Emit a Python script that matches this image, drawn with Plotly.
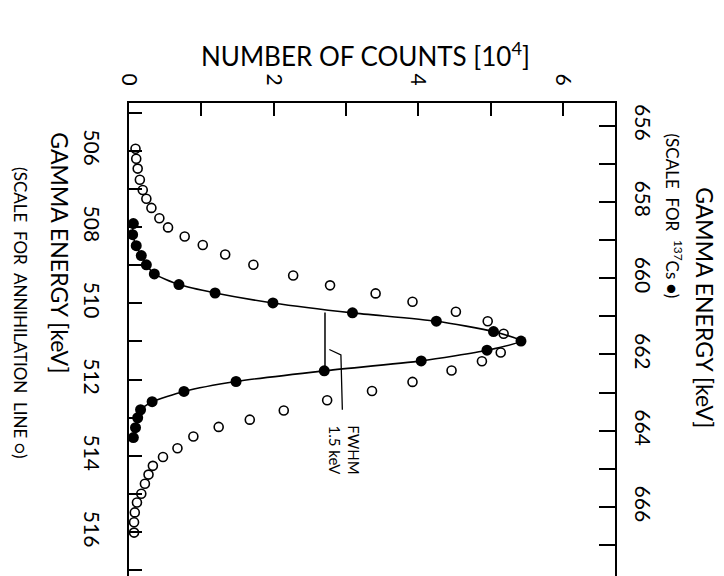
import plotly.graph_objects as go

# ---- data ----
# Cs-137 line (filled dots), energies on the Cs scale [keV], counts in 10^4
cs_energy = [658.57, 658.86, 659.15, 659.41, 659.65, 659.89, 660.17, 660.39, 660.65,
             660.91, 661.13, 661.40, 661.65, 661.89, 662.17, 662.43, 662.71, 662.97,
             663.24, 663.45, 663.66, 663.92, 664.18]
cs_counts = [0.06, 0.05, 0.10, 0.17, 0.24, 0.35, 0.69, 1.19, 1.99, 3.09, 4.25, 5.04,
             5.42, 4.95, 4.04, 2.70, 1.48, 0.76, 0.32, 0.16, 0.12, 0.09, 0.06]

# annihilation line (open circles), energies on the annihilation scale [keV]
ann_energy = [505.95, 506.21, 506.47, 506.76, 507.03, 507.26, 507.50, 507.77, 508.01,
              508.25, 508.47, 508.72, 508.99, 509.27, 509.53, 509.74, 509.96, 510.22,
              510.47, 510.80, 511.29, 511.52, 511.76, 512.06, 512.30, 512.54, 512.81,
              513.05, 513.24, 513.49, 513.80, 514.03, 514.26, 514.49, 514.73, 514.99,
              515.22, 515.48, 515.74, 516.01]
ann_counts = [0.09, 0.10, 0.12, 0.15, 0.19, 0.24, 0.31, 0.42, 0.54, 0.77, 1.02, 1.33,
              1.72, 2.27, 2.78, 3.41, 3.92, 4.52, 4.96, 5.18, 5.14, 4.88, 4.46, 3.92,
              3.36, 2.74, 2.14, 1.67, 1.24, 0.89, 0.67, 0.47, 0.33, 0.27, 0.22, 0.17,
              0.11, 0.08, 0.07, 0.07]

count_labels = [0, 2, 4, 6]
ann_labels = [506, 508, 510, 512, 514, 516]
cs_labels = [656, 658, 660, 662, 664, 666]

FWHM_KEV = 1.5
CS_OFFSET = 150.66           # Cs scale = annihilation scale + offset
ANN_RANGE = [517.2, 504.75]  # reversed (energy grows downward)
COUNT_RANGE = [0, 6.72]

# ---- layout geometry ----
W, H = 724, 576
L, R, T, B = 121, 117, 95, 4
FONT = "Lato"
NB = "\u00a0"


def px(xp):
    return (xp - L) / (W - L - R)


def py(yp):
    return (H - B - yp) / (H - T - B)


fig = go.Figure()

# fitted curve + Cs points
fig.add_trace(go.Scatter(
    x=cs_counts, y=cs_energy, yaxis="y2", mode="lines+markers",
    line=dict(color="black", width=1.6, shape="spline", smoothing=0.6),
    marker=dict(symbol="circle", size=11, color="black"),
    showlegend=False, hoverinfo="skip"))

# annihilation points
fig.add_trace(go.Scatter(
    x=ann_counts, y=ann_energy, mode="markers",
    marker=dict(symbol="circle-open", size=9, color="black", line=dict(width=1.6)),
    showlegend=False, hoverinfo="skip"))

# FWHM bar
peak_i = cs_counts.index(max(cs_counts))
peak_e = cs_energy[peak_i]
half = max(cs_counts) / 2
fig.add_trace(go.Scatter(
    x=[half, half], y=[peak_e - FWHM_KEV / 2, peak_e + FWHM_KEV / 2], yaxis="y2",
    mode="lines", line=dict(color="black", width=1.5),
    showlegend=False, hoverinfo="skip"))
# leader from the bar to the label
fig.add_trace(go.Scatter(
    x=[half + 0.06, half + 0.22, half + 0.24],
    y=[peak_e + 0.22, peak_e + 0.36, peak_e + 1.8], yaxis="y2",
    mode="lines", line=dict(color="black", width=1.3),
    showlegend=False, hoverinfo="skip"))

fig.add_annotation(x=half + 0.27, y=peak_e + 2.85, yref="y2", xref="x",
                   xanchor="center", yanchor="middle",
                   text="FWHM<br>1.5 keV", textangle=90, showarrow=False,
                   font=dict(family=FONT, size=15, color="black"))

# axis titles
ann_common = dict(xref="paper", yref="paper", showarrow=False,
                  xanchor="center", yanchor="middle")
fig.add_annotation(x=px(357), y=py(46), text="NUMBER OF COUNTS [10<sup>4</sup>]",
                   font=dict(family=FONT, size=26, color="black"), **ann_common)
fig.add_annotation(x=px(52), y=py(245), text="GAMMA ENERGY [keV]", textangle=90,
                   font=dict(family=FONT, size=23, color="black"), **ann_common)
fig.add_annotation(x=px(13), y=py(305),
                   text=f"(SCALE{NB}{NB}FOR{NB}{NB}ANNIHILATION{NB}{NB}LINE{NB}○)",
                   textangle=90, font=dict(family=FONT, size=17, color="black"),
                   **ann_common)
fig.add_annotation(x=px(697), y=py(300), text="GAMMA ENERGY [keV]", textangle=90,
                   font=dict(family=FONT, size=23, color="black"), **ann_common)
fig.add_annotation(x=px(666), y=py(208),
                   text=f"(SCALE{NB}{NB}FOR{NB}{NB}<sup>137</sup>Cs{NB}●)",
                   textangle=90, font=dict(family=FONT, size=17, color="black"),
                   **ann_common)

axis_common = dict(showline=True, linecolor="black", linewidth=2, ticks="inside",
                   tickcolor="black", tickwidth=1.5, showgrid=False, zeroline=False,
                   tickangle=90, tickmode="array",
                   tickfont=dict(family=FONT, size=21, color="black"))

fig.update_layout(
    width=W, height=H, margin=dict(l=L, r=R, t=T, b=B),
    paper_bgcolor="white", plot_bgcolor="white",
    xaxis=dict(range=COUNT_RANGE, side="top", tickvals=count_labels,
               ticktext=[str(v) for v in count_labels], ticklen=13,
               minor=dict(dtick=1, tick0=0, ticks="inside", ticklen=13,
                          tickwidth=1.5, tickcolor="black"),
               mirror=True, ticklabelstandoff=8, **axis_common),
    yaxis=dict(range=ANN_RANGE, tickvals=ann_labels,
               ticktext=[str(v) for v in ann_labels], ticklen=13,
               minor=dict(dtick=1, tick0=505, ticks="inside", ticklen=13,
                          tickwidth=1.5, tickcolor="black"),
               ticklabelstandoff=18, **axis_common),
    yaxis2=dict(range=[ANN_RANGE[0] + CS_OFFSET, ANN_RANGE[1] + CS_OFFSET],
                overlaying="y", side="right", tickvals=cs_labels,
                ticktext=[str(v) for v in cs_labels], ticklen=16,
                minor=dict(dtick=1, tick0=655, ticks="inside", ticklen=16,
                           tickwidth=1.5, tickcolor="black"),
                ticklabelstandoff=10, **axis_common),
)

fig.write_html("out.html")
